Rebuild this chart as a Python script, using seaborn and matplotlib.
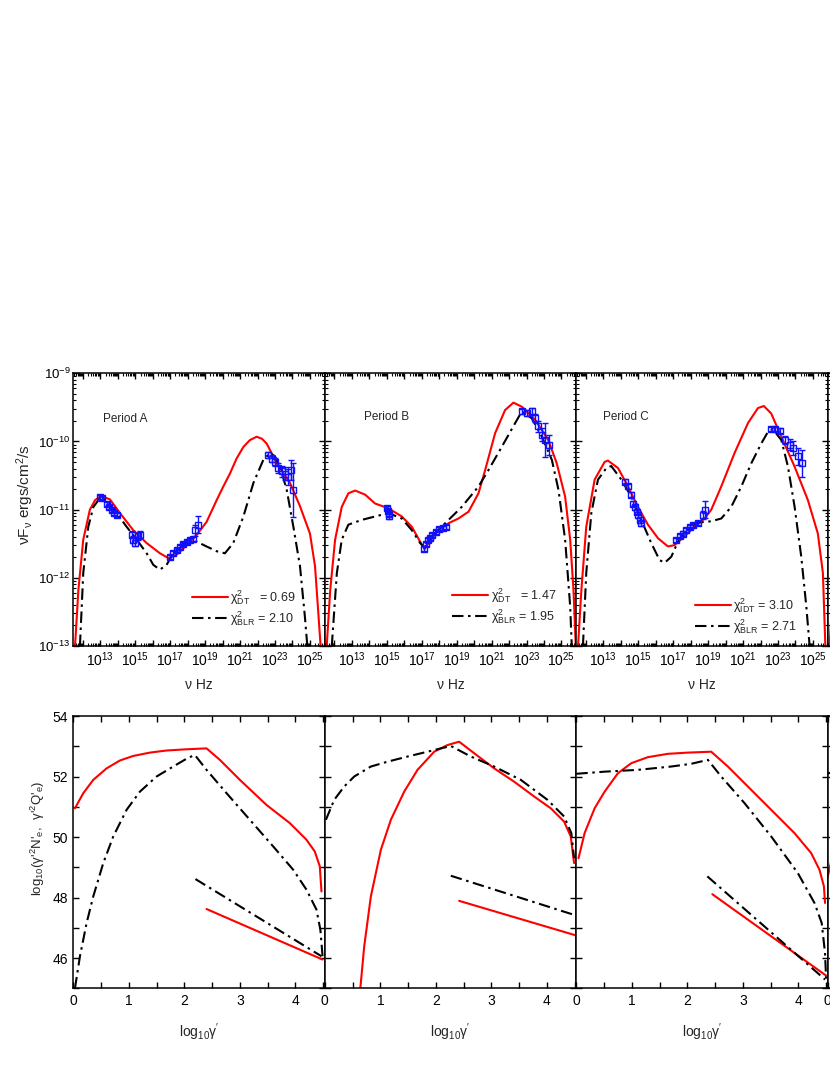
import numpy as np
import matplotlib
matplotlib.use('Agg')
import matplotlib.pyplot as plt
import matplotlib.ticker as mticker
import seaborn as sns

sns.set_theme(style='ticks')
plt.rcParams['font.family'] = ['Liberation Sans', 'DejaVu Sans']
plt.rcParams['mathtext.fontset'] = 'custom'
plt.rcParams['mathtext.rm'] = 'Liberation Sans'
plt.rcParams['mathtext.it'] = 'Liberation Sans:italic'
plt.rcParams['mathtext.bf'] = 'Liberation Sans:bold'
plt.rcParams['axes.linewidth'] = 1.1
plt.rcParams['axes.edgecolor'] = 'black'

# ---- SED model curves (log10 nu, log10 nuFnu) ----
a_dt_nu = [11.55, 11.74, 12.02, 12.40, 12.70, 12.98, 13.25, 13.55, 14.12, 14.88, 15.65, 16.41, 16.89, 17.37, 17.94, 18.52, 19.08, 19.66, 20.04, 20.42, 20.80, 21.19, 21.56, 21.95, 22.25, 22.52, 23.10, 23.86, 24.43, 25.00, 25.29, 25.48, 25.61]
a_dt_f = [-13.0, -12.18, -11.44, -11.0, -10.86, -10.81, -10.82, -10.85, -11.05, -11.30, -11.49, -11.64, -11.71, -11.66, -11.52, -11.37, -11.18, -10.86, -10.66, -10.47, -10.25, -10.08, -9.98, -9.93, -9.96, -10.03, -10.32, -10.61, -10.95, -11.35, -11.83, -12.52, -13.0]
a_blr_nu = [11.83, 12.02, 12.31, 12.60, 12.98, 13.36, 13.93, 14.50, 15.08, 15.65, 16.03, 16.41, 16.79, 17.18, 17.75, 18.52, 19.08, 19.66, 20.13, 20.61, 21.19, 21.76, 22.33, 22.71, 23.0, 23.29, 23.67, 24.05, 24.43, 24.71, 24.85]
a_blr_f = [-13.0, -11.93, -11.25, -10.96, -10.83, -10.86, -11.05, -11.25, -11.44, -11.64, -11.81, -11.88, -11.81, -11.64, -11.49, -11.47, -11.54, -11.61, -11.64, -11.49, -11.10, -10.61, -10.27, -10.17, -10.22, -10.37, -10.71, -11.25, -11.83, -12.57, -13.0]

b_dt_nu = [11.56, 11.76, 12.04, 12.42, 12.80, 13.19, 13.76, 14.33, 15.09, 15.86, 16.43, 16.91, 17.16, 17.39, 17.86, 18.53, 19.10, 19.68, 20.25, 20.63, 21.20, 21.77, 22.25, 22.73, 23.49, 24.25, 24.73, 25.21, 25.50, 25.69, 25.82]
b_dt_f = [-13.0, -12.18, -11.44, -10.96, -10.76, -10.72, -10.78, -10.91, -10.98, -11.10, -11.25, -11.47, -11.58, -11.49, -11.32, -11.20, -11.13, -11.03, -10.76, -10.42, -9.88, -9.54, -9.43, -9.49, -9.68, -9.98, -10.32, -10.81, -11.44, -12.18, -13.0]
b_blr_nu = [11.85, 12.14, 12.42, 12.80, 13.57, 14.33, 15.09, 15.86, 16.43, 16.91, 17.16, 17.57, 18.34, 19.29, 20.25, 20.82, 21.58, 22.35, 22.73, 23.30, 23.88, 24.45, 24.83, 25.21, 25.50, 25.59]
b_blr_f = [-13.0, -11.93, -11.44, -11.22, -11.15, -11.10, -11.05, -11.13, -11.30, -11.49, -11.56, -11.39, -11.20, -10.96, -10.66, -10.42, -10.08, -9.73, -9.56, -9.66, -9.93, -10.27, -10.71, -11.44, -12.42, -13.0]

c_dt_nu = [11.55, 11.74, 12.02, 12.50, 13.07, 13.26, 13.84, 14.41, 14.98, 15.55, 16.13, 16.70, 17.08, 17.65, 18.22, 18.80, 19.18, 19.75, 20.51, 21.28, 21.85, 22.19, 22.61, 23.19, 23.95, 24.71, 25.28, 25.57, 25.71]
c_dt_f = [-13.0, -12.18, -11.25, -10.56, -10.30, -10.28, -10.39, -10.66, -10.96, -11.22, -11.42, -11.54, -11.52, -11.39, -11.25, -11.13, -11.00, -10.66, -10.17, -9.73, -9.51, -9.48, -9.59, -9.93, -10.37, -10.86, -11.35, -11.93, -13.0]
c_blr_nu = [11.83, 12.02, 12.31, 12.69, 13.17, 13.45, 14.03, 14.60, 15.17, 15.74, 16.22, 16.51, 16.89, 17.27, 17.84, 18.42, 19.18, 19.75, 20.32, 20.90, 21.47, 22.04, 22.42, 22.71, 23.19, 23.57, 23.95, 24.33, 24.62, 24.81]
c_blr_f = [-13.0, -11.93, -11.05, -10.56, -10.39, -10.36, -10.56, -10.81, -11.15, -11.49, -11.74, -11.78, -11.69, -11.47, -11.27, -11.19, -11.17, -11.13, -10.96, -10.66, -10.32, -10.03, -9.86, -9.82, -9.98, -10.37, -10.96, -11.69, -12.42, -13.0]

d_dt_nu = [11.55, 11.74, 11.95]
d_dt_f = [-13.0, -12.18, -11.5]

# ---- observed SED points (log10 nu, log10 nuFnu, error in dex) ----
a_obs_nu = [12.98, 13.10, 13.40, 13.50, 13.65, 13.80, 13.95, 14.79, 14.89, 14.98, 15.17, 15.27, 16.98, 17.18, 17.37, 17.56, 17.75, 17.94, 18.13, 18.32, 18.42, 18.61, 22.61, 22.81, 23.00, 23.19, 23.38, 23.57, 23.76, 23.89, 24.05]
a_obs_f = [-10.82, -10.83, -10.92, -10.96, -11.00, -11.05, -11.08, -11.37, -11.44, -11.49, -11.39, -11.37, -11.69, -11.64, -11.59, -11.55, -11.50, -11.47, -11.45, -11.43, -11.30, -11.22, -10.20, -10.25, -10.30, -10.39, -10.44, -10.47, -10.52, -10.42, -10.71]
a_obs_e = [0.03, 0.03, 0.03, 0.03, 0.03, 0.03, 0.03, 0.05, 0.05, 0.05, 0.05, 0.05, 0.03, 0.03, 0.03, 0.03, 0.03, 0.03, 0.03, 0.03, 0.08, 0.12, 0.04, 0.05, 0.06, 0.07, 0.08, 0.10, 0.12, 0.15, 0.40]

b_obs_nu = [15.00, 15.05, 15.10, 15.15, 17.15, 17.25, 17.35, 17.45, 17.60, 17.80, 18.00, 18.20, 18.40, 22.73, 23.01, 23.30, 23.49, 23.68, 23.88, 24.07, 24.26]
b_obs_f = [-10.98, -11.02, -11.07, -11.10, -11.57, -11.50, -11.45, -11.41, -11.37, -11.33, -11.28, -11.27, -11.25, -9.56, -9.58, -9.56, -9.66, -9.78, -9.90, -9.98, -10.05]
b_obs_e = [0.03, 0.03, 0.03, 0.03, 0.04, 0.03, 0.03, 0.03, 0.03, 0.03, 0.03, 0.03, 0.03, 0.04, 0.04, 0.05, 0.06, 0.08, 0.10, 0.25, 0.15]

c_obs_nu = [14.22, 14.41, 14.56, 14.69, 14.79, 14.90, 14.98, 15.08, 15.17, 17.18, 17.37, 17.56, 17.75, 17.94, 18.13, 18.42, 18.70, 18.84, 22.61, 22.84, 23.09, 23.38, 23.66, 23.85, 24.14, 24.37]
c_obs_f = [-10.59, -10.66, -10.78, -10.91, -10.96, -11.03, -11.08, -11.15, -11.20, -11.44, -11.39, -11.35, -11.30, -11.26, -11.22, -11.20, -11.08, -11.00, -9.82, -9.82, -9.84, -9.98, -10.05, -10.10, -10.22, -10.32]
c_obs_e = [0.04, 0.04, 0.04, 0.04, 0.04, 0.04, 0.04, 0.04, 0.04, 0.03, 0.03, 0.03, 0.03, 0.03, 0.03, 0.03, 0.06, 0.12, 0.03, 0.03, 0.04, 0.06, 0.08, 0.10, 0.12, 0.20]

# ---- electron distributions (log10 gamma', log10 value) ----
a_ne_dt_g = [0.03, 0.18, 0.36, 0.60, 0.84, 1.08, 1.38, 1.68, 2.04, 2.40, 2.64, 3.00, 3.48, 3.90, 4.20, 4.35, 4.44, 4.47]
a_ne_dt_v = [50.95, 51.45, 51.89, 52.27, 52.53, 52.68, 52.79, 52.86, 52.90, 52.93, 52.55, 51.89, 51.06, 50.46, 49.91, 49.52, 49.03, 48.20]
a_ne_blr_g = [0.03, 0.12, 0.24, 0.36, 0.54, 0.72, 0.96, 1.20, 1.50, 1.80, 2.07, 2.19, 2.40, 2.76, 3.18, 3.60, 3.96, 4.20, 4.38, 4.45, 4.49]
a_ne_blr_v = [45.0, 46.06, 47.16, 48.04, 49.14, 50.02, 50.90, 51.50, 52.0, 52.33, 52.62, 52.71, 52.22, 51.45, 50.57, 49.69, 48.92, 48.26, 47.60, 46.94, 46.06]
a_q_dt_g = [2.40, 4.49]
a_q_dt_v = [47.62, 45.95]
a_q_blr_g = [2.20, 4.47]
a_q_blr_v = [48.61, 46.06]

b_ne_dt_g = [0.64, 0.71, 0.83, 1.01, 1.19, 1.43, 1.67, 1.97, 2.21, 2.42, 2.69, 3.05, 3.41, 3.77, 4.07, 4.31, 4.43, 4.49]
b_ne_dt_v = [45.0, 46.39, 48.04, 49.58, 50.57, 51.50, 52.22, 52.82, 53.04, 53.15, 52.77, 52.27, 51.83, 51.34, 50.95, 50.51, 50.02, 49.14]
b_ne_blr_g = [0.02, 0.17, 0.35, 0.53, 0.83, 1.13, 1.49, 1.85, 2.27, 2.63, 3.05, 3.53, 4.01, 4.31, 4.44, 4.49]
b_ne_blr_v = [50.57, 51.23, 51.67, 52.0, 52.33, 52.49, 52.66, 52.82, 53.01, 52.66, 52.33, 51.89, 51.23, 50.68, 50.13, 49.30]
b_q_dt_g = [2.42, 4.52]
b_q_dt_v = [47.89, 46.75]
b_q_blr_g = [2.27, 4.52]
b_q_blr_v = [48.72, 47.41]

c_ne_dt_g = [0.04, 0.15, 0.33, 0.51, 0.75, 0.99, 1.29, 1.65, 2.01, 2.43, 2.73, 3.09, 3.51, 3.93, 4.23, 4.38, 4.46, 4.48]
c_ne_dt_v = [49.30, 50.13, 50.95, 51.50, 52.11, 52.44, 52.64, 52.75, 52.79, 52.82, 52.33, 51.67, 50.90, 50.13, 49.47, 48.92, 48.37, 47.82]
c_ne_blr_g = [0.0, 0.51, 1.11, 1.71, 2.07, 2.37, 2.61, 3.03, 3.51, 3.99, 4.29, 4.42, 4.48, 4.50]
c_ne_blr_v = [52.09, 52.16, 52.22, 52.33, 52.42, 52.55, 52.0, 51.12, 50.02, 48.81, 47.82, 47.16, 46.17, 45.29]
c_q_dt_g = [2.45, 4.50]
c_q_dt_v = [48.11, 45.42]
c_q_blr_g = [2.36, 4.48]
c_q_blr_v = [48.70, 45.29]

d_ne_dt_g = [0.0, 0.1]
d_ne_dt_v = [48.7, 49.5]
d_ne_blr_g = [0.0, 0.1]
d_ne_blr_v = [52.1, 52.15]

periods = ['Period A', 'Period B', 'Period C']
CHI = r'$\mathregular{χ^{2}_{%s}}$'
chi_labels = [(CHI % 'DT' + '   = 0.69', CHI % 'BLR' + ' = 2.10'),
              (CHI % 'DT' + '   = 1.47', CHI % 'BLR' + ' = 1.95'),
              (CHI % 'IDT' + ' = 3.10', CHI % 'BLR' + ' = 2.71')]

RED = '#ff0000'
BLUE = '#1010ff'
DASHDOT = (5.5, 2.2, 1.2, 2.2)
TICK_FS = 10

fig = plt.figure(figsize=(8.3, 10.75), dpi=100)
W, H = 830.0, 1075.0
lefts = [73.3, 324.8, 576.3, 827.8]
pw = 251.5

def mk_ax(left, top, bottom):
    return fig.add_axes([left / W, 1 - bottom / H, pw / W, (bottom - top) / H])

def draw_curve(ax, x, y, red, log=True):
    x = np.asarray(x, float)
    y = np.asarray(y, float)
    if log:
        x, y = 10 ** x, 10 ** y
    if red:
        sns.lineplot(x=x, y=y, ax=ax, color=RED, lw=1.5, sort=False, estimator=None)
    else:
        l = sns.lineplot(x=x, y=y, ax=ax, color='black', lw=1.5, sort=False, estimator=None)
        l.lines[-1].set_dashes(DASHDOT)

def xfmt(v, p):
    e = round(np.log10(v))
    if e % 2 == 1 and 12 <= e <= 25:
        return r'$\mathregular{10^{%d}}$' % e
    return ''

def yfmt(v, p):
    e = round(np.log10(v))
    if -13 <= e <= -9:
        return r'$\mathregular{10^{%d}}$' % e
    return ''

def nefmt(v, p):
    if 45 <= v <= 54:
        return '%d' % round(v)
    return ''

def gfmt(v, p):
    if -0.01 <= v <= 4.53:
        return '%d' % round(v)
    return ''

def style_sed(ax, first):
    ax.set_xscale('log')
    ax.set_yscale('log')
    ax.set_xlim(10 ** 11.45, 10 ** 25.85)
    ax.set_ylim(1e-13, 1e-9)
    ax.xaxis.set_major_locator(mticker.LogLocator(base=10, numticks=30))
    ax.xaxis.set_minor_locator(mticker.LogLocator(base=10, subs=np.arange(2, 10), numticks=30))
    ax.xaxis.set_major_formatter(mticker.FuncFormatter(xfmt))
    ax.xaxis.set_minor_formatter(mticker.NullFormatter())
    ax.yaxis.set_major_locator(mticker.LogLocator(base=10, numticks=10))
    ax.yaxis.set_minor_locator(mticker.LogLocator(base=10, subs=np.arange(2, 10), numticks=10))
    ax.yaxis.set_major_formatter(mticker.FuncFormatter(yfmt) if first else mticker.NullFormatter())
    ax.yaxis.set_minor_formatter(mticker.NullFormatter())
    ax.tick_params(which='both', direction='in', top=True, right=True, labelsize=TICK_FS, pad=3, colors='black')
    ax.tick_params(axis='y', which='both', pad=2, labelsize=9.5)
    ax.tick_params(which='major', length=4, width=1)
    ax.tick_params(which='minor', length=2, width=0.8)

def style_ne(ax, first):
    ax.set_xlim(0, 4.53)
    ax.set_ylim(45, 54)
    ax.xaxis.set_major_locator(mticker.MultipleLocator(1))
    ax.xaxis.set_minor_locator(mticker.MultipleLocator(0.5))
    ax.yaxis.set_major_locator(mticker.MultipleLocator(2))
    ax.yaxis.set_minor_locator(mticker.MultipleLocator(1))
    ax.xaxis.set_major_formatter(mticker.FuncFormatter(gfmt))
    ax.yaxis.set_major_formatter(mticker.FuncFormatter(nefmt) if first else mticker.NullFormatter())
    ax.tick_params(which='both', direction='in', top=True, right=True, labelsize=TICK_FS, pad=4, colors='black')
    ax.tick_params(which='major', length=4, width=1)
    ax.tick_params(which='minor', length=4, width=1)

sed_sets = [
    (a_dt_nu, a_dt_f, a_blr_nu, a_blr_f, a_obs_nu, a_obs_f, a_obs_e),
    (b_dt_nu, b_dt_f, b_blr_nu, b_blr_f, b_obs_nu, b_obs_f, b_obs_e),
    (c_dt_nu, c_dt_f, c_blr_nu, c_blr_f, c_obs_nu, c_obs_f, c_obs_e),
]
ne_sets = [
    (a_ne_dt_g, a_ne_dt_v, a_ne_blr_g, a_ne_blr_v, a_q_dt_g, a_q_dt_v, a_q_blr_g, a_q_blr_v),
    (b_ne_dt_g, b_ne_dt_v, b_ne_blr_g, b_ne_blr_v, b_q_dt_g, b_q_dt_v, b_q_blr_g, b_q_blr_v),
    (c_ne_dt_g, c_ne_dt_v, c_ne_blr_g, c_ne_blr_v, c_q_dt_g, c_q_dt_v, c_q_blr_g, c_q_blr_v),
]
leg_pos = [(0.47, 0.212), (0.505, 0.22), (0.47, 0.183)]
period_pos = [(0.118, 0.82), (0.154, 0.83), (0.106, 0.83)]

for i in range(3):
    dt_nu, dt_f, blr_nu, blr_f, o_nu, o_f, o_e = sed_sets[i]
    ax = mk_ax(lefts[i], 373.3, 646.0)
    draw_curve(ax, dt_nu, dt_f, True)
    draw_curve(ax, blr_nu, blr_f, False)
    o_nu, o_f, o_e = np.array(o_nu), np.array(o_f), np.array(o_e)
    yv = 10 ** o_f
    yerr = [yv - 10 ** (o_f - o_e), 10 ** (o_f + o_e) - yv]
    ax.errorbar(10 ** o_nu, yv, yerr=yerr, fmt='s', mfc='none', mec=BLUE, ecolor=BLUE,
                ms=4.5, mew=1.0, elinewidth=1.0, capsize=2.5, capthick=1.0, zorder=3)
    style_sed(ax, i == 0)
    ax.text(*period_pos[i], periods[i], transform=ax.transAxes, fontsize=8.5)
    h = ax.get_lines()
    ax.legend([h[0], h[1]], list(chi_labels[i]), loc='upper left', bbox_to_anchor=leg_pos[i],
              frameon=False, fontsize=9, handlelength=2.9, handletextpad=0.2,
              labelspacing=0.2, borderpad=0, borderaxespad=0)
    ax.set_xlabel('ν Hz', fontsize=10, labelpad=7)
    if i == 0:
        ax.set_ylabel(r'νF$_{\mathregular{ν}}$ ergs/cm$^{\mathregular{2}}$/s', fontsize=11)
        ax.yaxis.set_label_coords(-0.148, 0.554)

    dt_g, dt_v, blr_g, blr_v, qd_g, qd_v, qb_g, qb_v = ne_sets[i]
    bx = mk_ax(lefts[i], 716.0, 988.3)
    draw_curve(bx, dt_g, dt_v, True, log=False)
    draw_curve(bx, blr_g, blr_v, False, log=False)
    draw_curve(bx, qd_g, qd_v, True, log=False)
    draw_curve(bx, qb_g, qb_v, False, log=False)
    style_ne(bx, i == 0)
    bx.set_xlabel(r"log$_{\mathregular{10}}$γ$'$", fontsize=10, labelpad=10)
    if i == 0:
        bx.set_ylabel(r"log$_{\mathregular{10}}$(γ$'^{\mathregular{2}}$N$'_{\mathregular{e}}$,  γ$'^{\mathregular{2}}$Q$'_{\mathregular{e}}$)",
                      fontsize=9.5)
        bx.yaxis.set_label_coords(-0.105, 0.552)

# partial fourth column, cut by the figure edge
ax = mk_ax(lefts[3], 373.3, 646.0)
draw_curve(ax, d_dt_nu, d_dt_f, True)
style_sed(ax, False)
ax.xaxis.set_major_formatter(mticker.NullFormatter())
bx = mk_ax(lefts[3], 716.0, 988.3)
draw_curve(bx, d_ne_dt_g, d_ne_dt_v, True, log=False)
draw_curve(bx, d_ne_blr_g, d_ne_blr_v, False, log=False)
style_ne(bx, False)
bx.xaxis.set_major_formatter(mticker.FuncFormatter(lambda v, p: '0' if abs(v) < 1e-9 else ''))

fig.savefig('out.png', dpi=100)
